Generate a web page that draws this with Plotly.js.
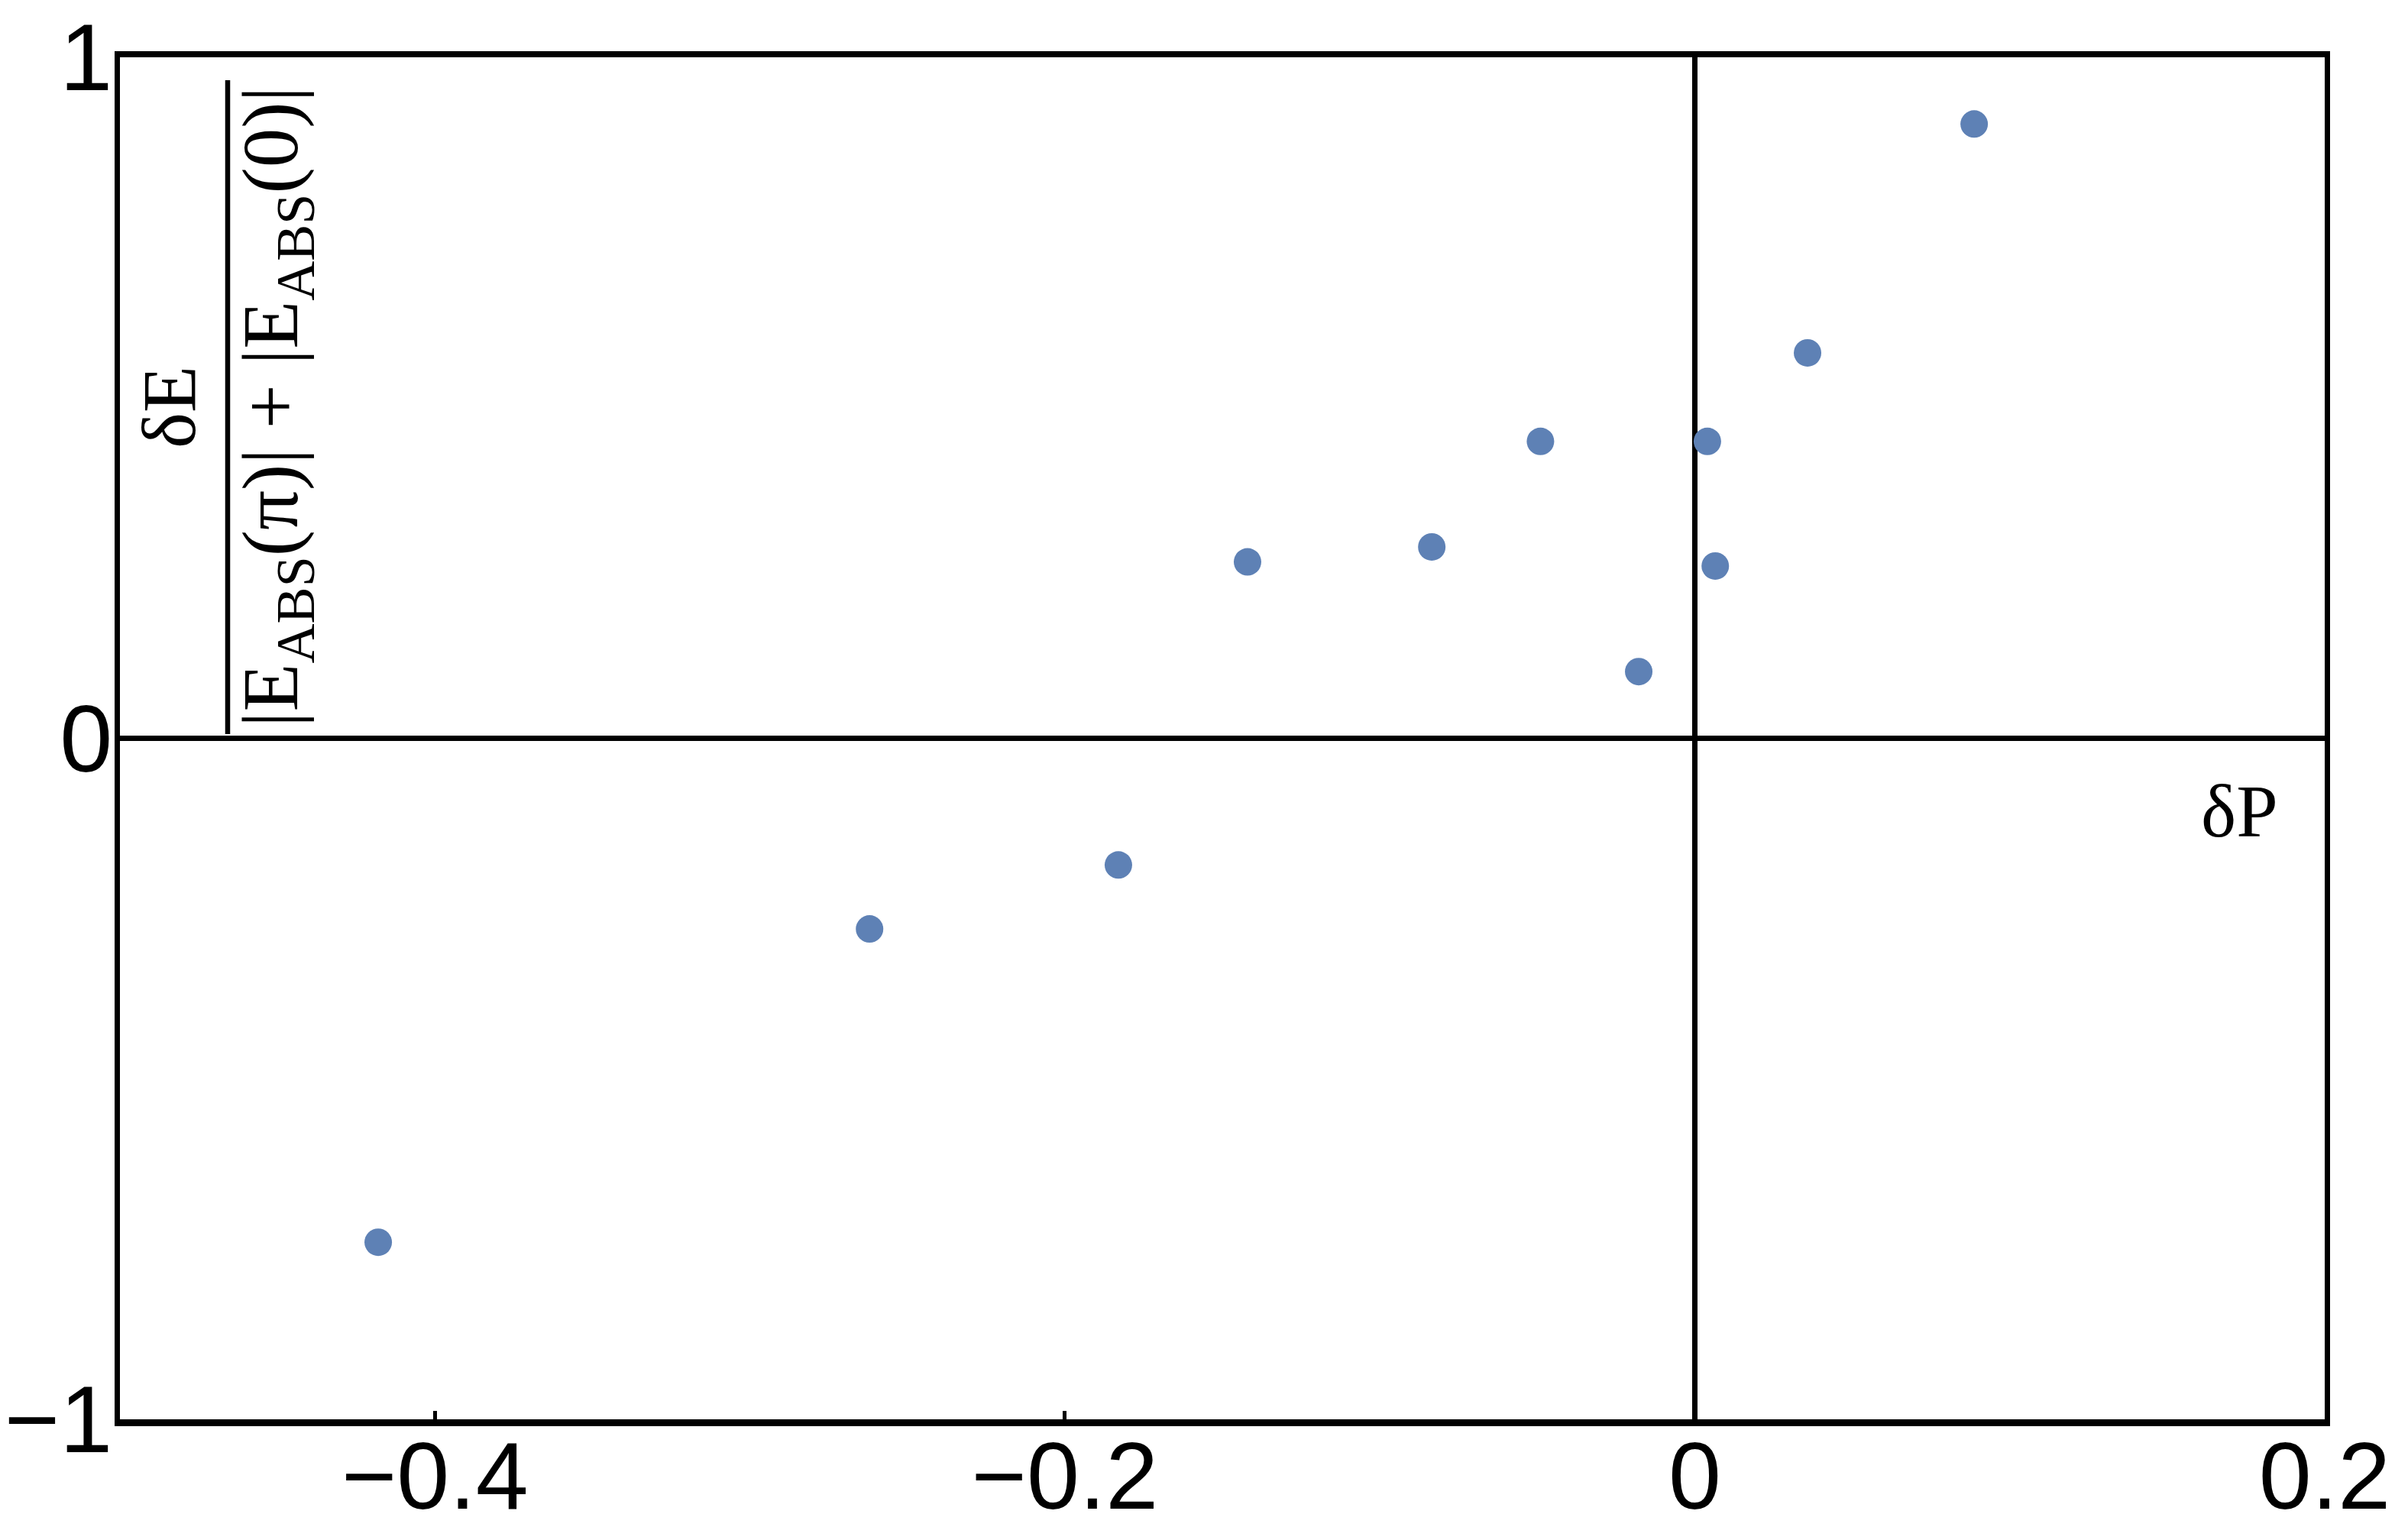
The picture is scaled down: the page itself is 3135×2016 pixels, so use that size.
<!DOCTYPE html>
<html>
<head>
<meta charset="utf-8">
<script src="https://cdn.plot.ly/plotly-3.0.1.min.js"></script>
<style>
  body { margin: 0; background: #fff; }
  #chart { width: 3135px; height: 2016px; }
</style>
</head>
<body>
<div id="chart"></div>
<script>
// δP values (x) and normalised δE values (y)
const dP = [-0.418, -0.262, -0.183, -0.142, -0.0835, -0.049, -0.0178, 0.004, 0.0065, 0.0358, 0.0887];
const dE = [-0.740, -0.280, -0.186, 0.259, 0.281, 0.436, 0.098, 0.436, 0.253, 0.566, 0.902];

const xTicks = [-0.4, -0.2, 0, 0.2];
const yTicks = [-1, 0, 1];

const W = 3135, H = 2016;
const m = {l: 157, r: 92, t: 75, b: 158};
const pw = W - m.l - m.r, ph = H - m.t - m.b;
// pixel -> paper helpers for the labels
const px = (x) => (x - m.l) / pw;
const py = (y) => (H - m.b - y) / ph;

const serif = 'Liberation Serif, Times New Roman, serif';

let data = [{
    x: dP,
    y: dE,
    mode: 'markers',
    type: 'scatter',
    marker: {color: '#5E81B5', size: 36},
    hoverinfo: 'none'
}];

let layout = {
    width: W,
    height: H,
    margin: m,
    showlegend: false,
    paper_bgcolor: '#fff',
    plot_bgcolor: '#fff',
    font: {family: 'Liberation Sans, Arial, sans-serif', size: 124, color: '#000'},
    xaxis: {
        range: [-0.5, 0.2],
        tickvals: xTicks,
        ticks: 'inside',
        ticklen: 11,
        tickwidth: 5,
        tickcolor: '#000',
        showgrid: false,
        zeroline: true,
        zerolinecolor: '#000',
        zerolinewidth: 7,
        showline: true,
        linecolor: '#000',
        linewidth: 8.5,
        mirror: true,
        ticklabelstandoff: -40
    },
    yaxis: {
        range: [-1, 1],
        tickvals: yTicks,
        ticks: '',
        showgrid: false,
        zeroline: true,
        zerolinecolor: '#000',
        zerolinewidth: 7,
        showline: true,
        linecolor: '#000',
        linewidth: 7,
        mirror: true,
        ticklabelstandoff: -22
    },
    shapes: [{
        type: 'line', xref: 'paper', yref: 'paper',
        x0: px(298), x1: px(298), y0: py(105), y1: py(961),
        line: {color: '#000', width: 6.5}
    }],
    annotations: [
        {
            xref: 'paper', yref: 'paper', x: px(222), y: py(533),
            xanchor: 'center', yanchor: 'middle', textangle: -90,
            text: 'δE', showarrow: false,
            font: {family: serif, size: 100, color: '#000'}
        },
        {
            xref: 'paper', yref: 'paper', x: px(362), y: py(533),
            xanchor: 'center', yanchor: 'middle', textangle: -90,
            text: '|E<sub>ABS</sub>(π)| + |E<sub>ABS</sub>(0)|', showarrow: false,
            font: {family: serif, size: 103, color: '#000'}
        },
        {
            xref: 'paper', yref: 'paper', x: px(2931), y: py(1062),
            xanchor: 'center', yanchor: 'middle',
            text: 'δP', showarrow: false,
            font: {family: serif, size: 98, color: '#000'}
        }
    ]
};

Plotly.newPlot('chart', data, layout, {staticPlot: true, displayModeBar: false});
</script>
</body>
</html>
